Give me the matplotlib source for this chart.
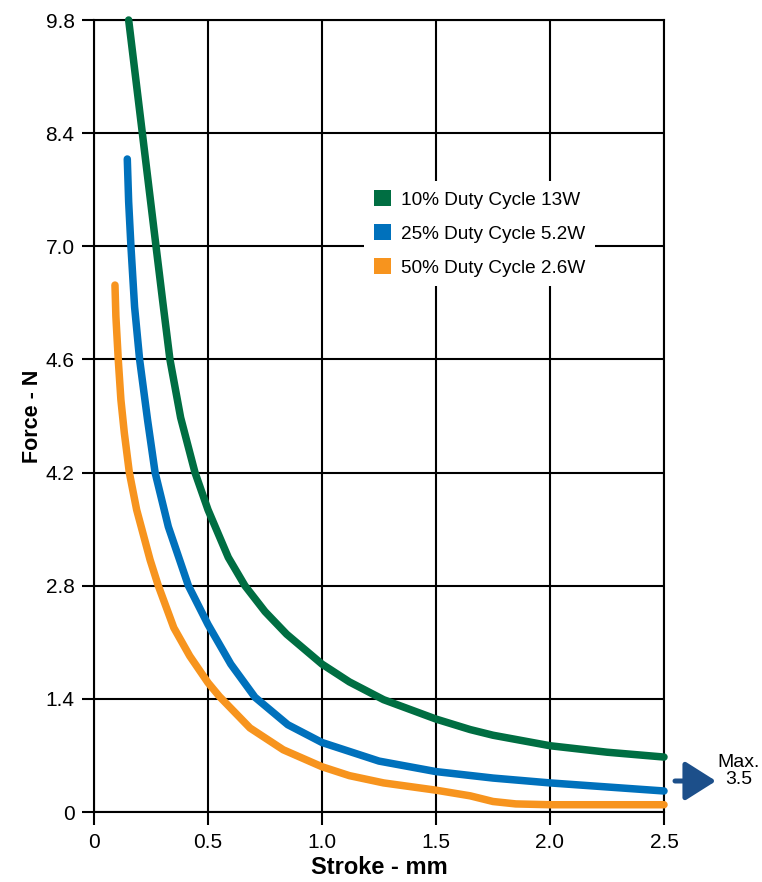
import matplotlib
matplotlib.use("Agg")
from matplotlib import pyplot as plt
from matplotlib.patches import Patch, FancyArrowPatch

plt.rcParams["font.family"] = ["Liberation Sans", "DejaVu Sans"]

# Kurvor (slag i mm, kraft i N)
green_x = [0.152, 0.212, 0.272, 0.30, 0.333, 0.38, 0.443, 0.50, 0.589, 0.662, 0.75, 0.845,
           1.0, 1.12, 1.27, 1.5, 1.65, 1.75, 2.0, 2.25, 2.5]
green_y = [9.8, 8.4, 7.0, 6.35, 5.6, 4.88, 4.2, 3.74, 3.15, 2.8, 2.48, 2.2,
           1.83, 1.61, 1.39, 1.15, 1.02, 0.95, 0.82, 0.74, 0.68]

blue_x = [0.146, 0.152, 0.162, 0.178, 0.20, 0.235, 0.268, 0.326, 0.414, 0.50, 0.60, 0.706,
          0.85, 1.0, 1.25, 1.5, 1.75, 2.0, 2.25, 2.5]
blue_y = [8.08, 7.55, 7.0, 6.25, 5.6, 4.85, 4.2, 3.53, 2.8, 2.32, 1.83, 1.42,
          1.08, 0.86, 0.63, 0.5, 0.42, 0.36, 0.31, 0.26]

orange_x = [0.092, 0.096, 0.107, 0.118, 0.133, 0.155, 0.187, 0.246, 0.282, 0.35, 0.42, 0.50,
            0.55, 0.684, 0.83, 1.0, 1.12, 1.27, 1.5, 1.65, 1.75, 1.85, 2.0, 2.25, 2.5]
orange_y = [6.52, 6.13, 5.57, 5.10, 4.69, 4.2, 3.74, 3.12, 2.8, 2.28, 1.93, 1.6,
            1.43, 1.04, 0.77, 0.56, 0.45, 0.36, 0.27, 0.2, 0.13, 0.1, 0.09, 0.09, 0.09]

series_labels = ["10% Duty Cycle 13W", "25% Duty Cycle 5.2W", "50% Duty Cycle 2.6W"]
series_colors = ["#006e42", "#0071bc", "#f7941e"]

x_ticks = [0, 0.5, 1.0, 1.5, 2.0, 2.5]
x_tick_labels = ["0", "0.5", "1.0", "1.5", "2.0", "2.5"]
y_ticks = [0, 1.4, 2.8, 4.2, 5.6, 7.0, 8.4, 9.8]
y_tick_labels = ["0", "1.4", "2.8", "4.2", "4.6", "7.0", "8.4", "9.8"]

fig = plt.figure(figsize=(7.62, 8.82), dpi=100)
ax = fig.add_axes([94 / 762, 1 - 812 / 882, 570 / 762, 792 / 882])

ax.set_xlim(0, 2.5)
ax.set_ylim(0, 9.8)
ax.set_xticks(x_ticks)
ax.set_xticklabels(x_tick_labels)
ax.set_yticks(y_ticks)
ax.set_yticklabels(y_tick_labels)
ax.tick_params(axis="both", direction="out", length=9, width=1.5, color="black",
               labelsize=15)
ax.tick_params(axis="x", pad=6)
ax.tick_params(axis="y", pad=5)
ax.grid(True, color="black", linewidth=1.5)
ax.set_axisbelow(True)
for side in ax.spines.values():
    side.set_linewidth(1.5)

for xs, ys, col in [(green_x, green_y, series_colors[0]),
                    (blue_x, blue_y, series_colors[1]),
                    (orange_x, orange_y, series_colors[2])]:
    ax.plot(xs, ys, color=col, linewidth=5.4, solid_capstyle="round",
            solid_joinstyle="round", clip_on=False, zorder=3)

ax.set_xlabel("Stroke - mm", fontsize=17, fontweight="bold", labelpad=3)
ax.set_ylabel("Force - N", fontsize=15.5, fontweight="bold", labelpad=2)

handles = [Patch(facecolor=c, edgecolor="none") for c in series_colors]
leg = ax.legend(handles, series_labels, loc="upper left", bbox_to_anchor=(0.474, 0.797),
                fontsize=13.7, frameon=True, facecolor="white", edgecolor="none",
                framealpha=1, fancybox=False, handlelength=0.9, handleheight=0.9,
                handletextpad=0.55, labelspacing=0.82, borderpad=0.5, borderaxespad=0)
leg.set_zorder(2.5)

# Pil med "Max. 3.5" till höger om diagrammet
arrow = FancyArrowPatch((675, 882 - 781), (716, 882 - 781), transform=None,
                        arrowstyle="-|>,head_length=1.9,head_width=1.2", mutation_scale=10,
                        color="#1c4f8a", linewidth=3.6, shrinkA=0, shrinkB=0)
fig.patches.append(arrow)
fig.text(739 / 762, 1 - 771 / 882, "Max.\n3.5", ha="center", va="center",
         fontsize=14, linespacing=1.0)

plt.savefig("out.png", dpi=100)
